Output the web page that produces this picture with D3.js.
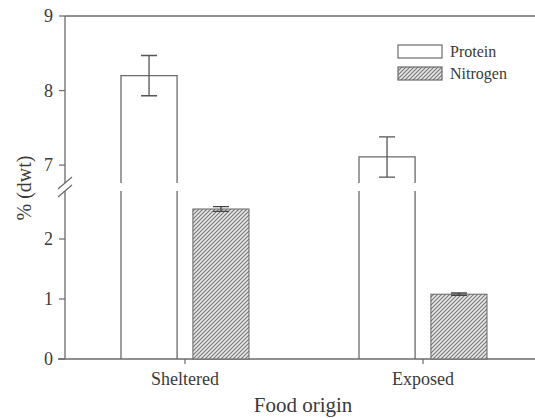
<!DOCTYPE html>
<html>
<head>
<meta charset="utf-8">
<script src="https://cdn.jsdelivr.net/npm/d3@7"></script>
<style>
  body { margin: 0; background: #fff; }
  svg text { fill: #3a3a3a; }
</style>
</head>
<body>
<div id="chart"></div>
<script>
// data
const origins = ['Sheltered', 'Exposed'];
const series = ['Protein', 'Nitrogen'];
const proteinValues = [8.2, 7.11];
const proteinErrors = [0.27, 0.27];
const nitrogenValues = [2.5, 1.08];
const nitrogenErrors = [0.04, 0.02];
const lowTicks = [0, 1, 2];
const highTicks = [7, 8, 9];

const width = 535, height = 418;
const lineColor = '#6a6a6a';
const serif = "'Liberation Serif', 'Times New Roman', Times, 'DejaVu Serif', serif";

const svg = d3.select('#chart')
  .append('svg')
  .attr('width', width)
  .attr('height', height)
  .attr('font-family', serif)
  .style('font-family', serif);

const defs = svg.append('defs');
const hatch = defs.append('pattern')
  .attr('id', 'hatch')
  .attr('patternUnits', 'userSpaceOnUse')
  .attr('width', 4)
  .attr('height', 4);
hatch.append('rect').attr('width', 4).attr('height', 4).attr('fill', '#e6e6e6');
hatch.append('path')
  .attr('d', 'M-1,1 l2,-2 M0,4 l4,-4 M3,5 l2,-2')
  .attr('stroke', '#777')
  .attr('stroke-width', 1.1);

// two y scales for the broken axis
const axisX = 65;
const yLow = d3.scaleLinear().domain([0, 2.8]).range([359, 191]);
const yHigh = d3.scaleLinear().domain([6.76, 9]).range([183, 16]);
const breakLow = yLow.domain()[1];
const breakHigh = yHigh.domain()[0];

const x0 = d3.scalePoint().domain(origins).range([185, 423]);
const x1 = d3.scaleBand().domain(series).range([-64, 64]).paddingInner(0.22);

const g = svg.append('g');

// frame lines
g.append('line')
  .attr('x1', axisX).attr('x2', width)
  .attr('y1', yHigh(9)).attr('y2', yHigh(9))
  .attr('stroke', lineColor).attr('stroke-width', 1.3);

g.append('line')
  .attr('x1', 58).attr('x2', width)
  .attr('y1', yLow(0)).attr('y2', yLow(0))
  .attr('stroke', lineColor).attr('stroke-width', 1.3);

// y axis segments
g.append('line')
  .attr('x1', axisX).attr('x2', axisX)
  .attr('y1', yLow(0)).attr('y2', yLow(breakLow))
  .attr('stroke', lineColor).attr('stroke-width', 1.3);
g.append('line')
  .attr('x1', axisX).attr('x2', axisX)
  .attr('y1', yHigh(breakHigh)).attr('y2', yHigh(9))
  .attr('stroke', lineColor).attr('stroke-width', 1.3);

// break marks
[yLow(breakLow), yHigh(breakHigh)].forEach(yy => {
  g.append('line')
    .attr('x1', axisX - 7).attr('y1', yy + 6)
    .attr('x2', axisX + 7).attr('y2', yy - 6)
    .attr('stroke', lineColor).attr('stroke-width', 1.2);
});

// y ticks
function drawTicks(scale, ticks) {
  ticks.forEach(t => {
    g.append('line')
      .attr('x1', axisX - 6).attr('x2', axisX)
      .attr('y1', scale(t)).attr('y2', scale(t))
      .attr('stroke', lineColor).attr('stroke-width', 1.2);
    g.append('text')
      .attr('x', axisX - 12)
      .attr('y', scale(t))
      .attr('dy', '0.35em')
      .attr('text-anchor', 'end')
      .style('font-size', '18px')
      .text(t);
  });
}
drawTicks(yLow, lowTicks);
drawTicks(yHigh, highTicks);

// x ticks and labels
origins.forEach(o => {
  g.append('line')
    .attr('x1', x0(o)).attr('x2', x0(o))
    .attr('y1', yLow(0)).attr('y2', yLow(0) + 5)
    .attr('stroke', lineColor).attr('stroke-width', 1.2);
  g.append('text')
    .attr('x', x0(o))
    .attr('y', 385)
    .attr('text-anchor', 'middle')
    .style('font-size', '18px')
    .text(o);
});

// protein bars: split at the break, open ends at the gap
origins.forEach((o, i) => {
  const left = x0(o) + x1('Protein');
  const right = left + x1.bandwidth();
  const top = yHigh(proteinValues[i]);
  g.append('path')
    .attr('d', `M${left},${yLow(0)} V${yLow(breakLow)} M${right},${yLow(0)} V${yLow(breakLow)}`)
    .attr('fill', 'none').attr('stroke', lineColor).attr('stroke-width', 1.3);
  g.append('path')
    .attr('d', `M${left},${yHigh(breakHigh)} V${top} H${right} V${yHigh(breakHigh)}`)
    .attr('fill', 'none').attr('stroke', lineColor).attr('stroke-width', 1.3);
  // error bar
  const e = proteinErrors[i];
  const cx = left + x1.bandwidth() / 2;
  g.append('path')
    .attr('d', `M${cx},${yHigh(proteinValues[i] + e)} V${yHigh(proteinValues[i] - e)}` +
      ` M${cx - 8},${yHigh(proteinValues[i] + e)} h16 M${cx - 8},${yHigh(proteinValues[i] - e)} h16`)
    .attr('fill', 'none').attr('stroke', '#555').attr('stroke-width', 1.3);
});

// nitrogen bars
origins.forEach((o, i) => {
  const left = x0(o) + x1('Nitrogen');
  g.append('rect')
    .attr('x', left).attr('y', yLow(nitrogenValues[i]))
    .attr('width', x1.bandwidth())
    .attr('height', yLow(0) - yLow(nitrogenValues[i]))
    .attr('fill', 'url(#hatch)')
    .attr('stroke', '#666').attr('stroke-width', 1);
  const e = nitrogenErrors[i];
  const cx = left + x1.bandwidth() / 2;
  g.append('path')
    .attr('d', `M${cx},${yLow(nitrogenValues[i] + e)} V${yLow(nitrogenValues[i] - e)}` +
      ` M${cx - 8},${yLow(nitrogenValues[i] + e)} h16 M${cx - 8},${yLow(nitrogenValues[i] - e)} h16`)
    .attr('fill', 'none').attr('stroke', '#444').attr('stroke-width', 1.3);
});

// legend
const legend = g.append('g').attr('transform', 'translate(398,45)');
series.forEach((s, i) => {
  const row = legend.append('g').attr('transform', `translate(0,${i * 22})`);
  row.append('rect')
    .attr('width', 44).attr('height', 13)
    .attr('fill', s === 'Protein' ? '#fff' : 'url(#hatch)')
    .attr('stroke', lineColor).attr('stroke-width', 1.2);
  row.append('text')
    .attr('x', 52).attr('y', 12)
    .style('font-size', '16px')
    .text(s);
});

// axis titles
g.append('text')
  .attr('transform', 'translate(31,188) rotate(-90)')
  .attr('text-anchor', 'middle')
  .style('font-size', '20px')
  .text('% (dwt)');

g.append('text')
  .attr('x', 303)
  .attr('y', 412)
  .attr('text-anchor', 'middle')
  .style('font-size', '21px')
  .text('Food origin');
</script>
</body>
</html>
